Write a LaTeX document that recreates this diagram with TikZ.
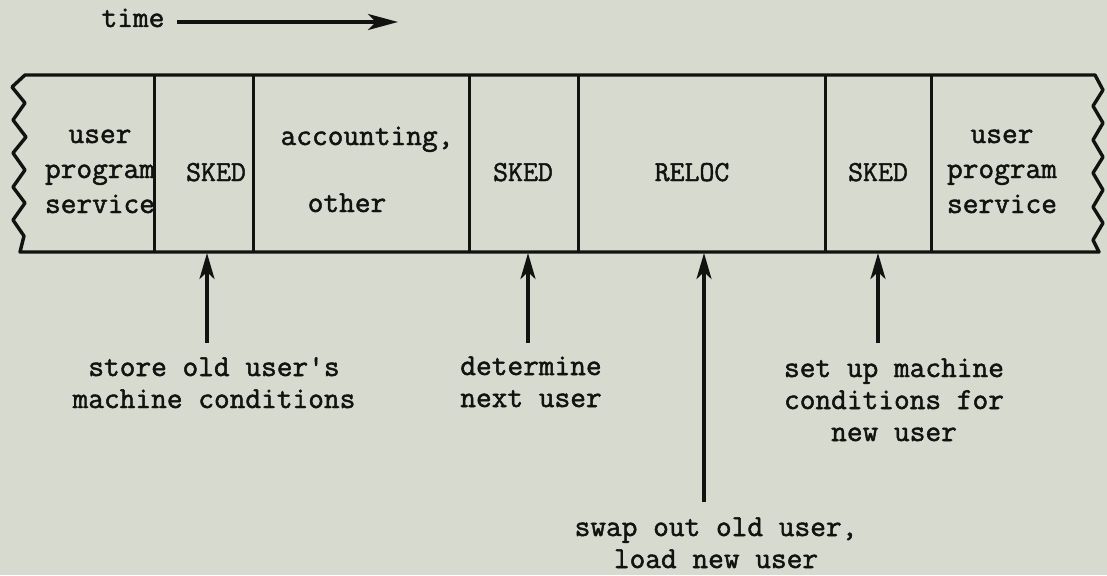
\documentclass[tikz,border=0pt]{standalone}
\usepackage{fontspec}
\newfontfamily\tw{Latin Modern Mono}[FakeBold=1.6]
\usetikzlibrary{arrows.meta}
\definecolor{paper}{RGB}{215,218,207}
\definecolor{ink}{RGB}{18,18,16}
\begin{document}
\begin{tikzpicture}[x=1pt,y=-1pt,
  every node/.style={inner sep=0pt, outer sep=0pt, text=ink},
  cell/.style={font=\tw\fontsize{30.5}{35}\selectfont, align=center, anchor=north},
  tag/.style={font=\tw\fontsize{29}{35}\selectfont, anchor=base},
  word/.style={font=\tw\fontsize{30.5}{35}\selectfont, anchor=base},
  note/.style={font=\tw\fontsize{30.5}{32}\selectfont, align=center, anchor=north},
  frame/.style={draw=ink, line width=3.4pt, line join=round},
  divider/.style={draw=ink, line width=3pt},
  pointer/.style={draw=ink, line width=3.6pt, -{Stealth[length=26pt,width=15pt,inset=7pt]}},
  timeline/.style={draw=ink, line width=3.2pt, -{Stealth[length=30pt,width=16pt,inset=8pt]}}]

% paper
\fill[paper] (0,0) rectangle (1107,575);
\useasboundingbox (0,0) rectangle (1107,575);

% time axis
\node[word] (time) at (133,27) {time};
\coordinate (ts) at (177,22);
\coordinate (te) at (398,22);
\draw[timeline] (ts) -- (te);

% cell texts
\node[cell] (ups1) at (100,118.5) {\strut user\\program\\service};
\node[tag] (sked1) at (216,181) {SKED};
\node[word] (acc) at (367,145) {accounting,};
\node[word] (oth) at (347,212) {other};
\node[tag] (sked2) at (523,181) {SKED};
\node[tag] (reloc) at (692,181) {RELOC};
\node[tag] (sked3) at (878,181) {SKED};
\node[cell] (ups2) at (1002,118.5) {\strut user\\program\\service};

% the strip with torn ends
\draw[frame] (25,75) -- (1095,75)
  -- (1103,90) -- (1093,106) -- (1103,123) -- (1093,140) -- (1103,157)
  -- (1093,173) -- (1103,190) -- (1093,207) -- (1103,223) -- (1093,240)
  -- (1099,252) -- (20,252)
  -- (24,236) -- (13,220) -- (25,203) -- (13,187) -- (25,170) -- (13,153)
  -- (26,137) -- (13,120) -- (25,103) -- (12,87) -- cycle;

% cell boundaries
\foreach \x in {154,253,469,578,825,931}
  \draw[divider] (\x,75) -- (\x,252);

% explanations
\node[note] (n1) at (214,353.6) {\strut store old user's\\machine conditions};
\node[note] (n2) at (531,352.6) {\strut determine\\next user};
\node[note] (n3) at (894,354.6) {\strut set up machine\\conditions for\\new user};
\node[note] (n4) at (716,513.6) {\strut swap out old user,\\load new user};

\coordinate (p1s) at (207,343);  \coordinate (p1t) at (207,253);
\coordinate (p2s) at (528,343);  \coordinate (p2t) at (528,253);
\coordinate (p3s) at (704,502);  \coordinate (p3t) at (704,253);
\coordinate (p4s) at (878,343);  \coordinate (p4t) at (878,253);

\draw[pointer] (p1s) -- (p1t);
\draw[pointer] (p2s) -- (p2t);
\draw[pointer] (p3s) -- (p3t);
\draw[pointer] (p4s) -- (p4t);
\end{tikzpicture}
\end{document}
